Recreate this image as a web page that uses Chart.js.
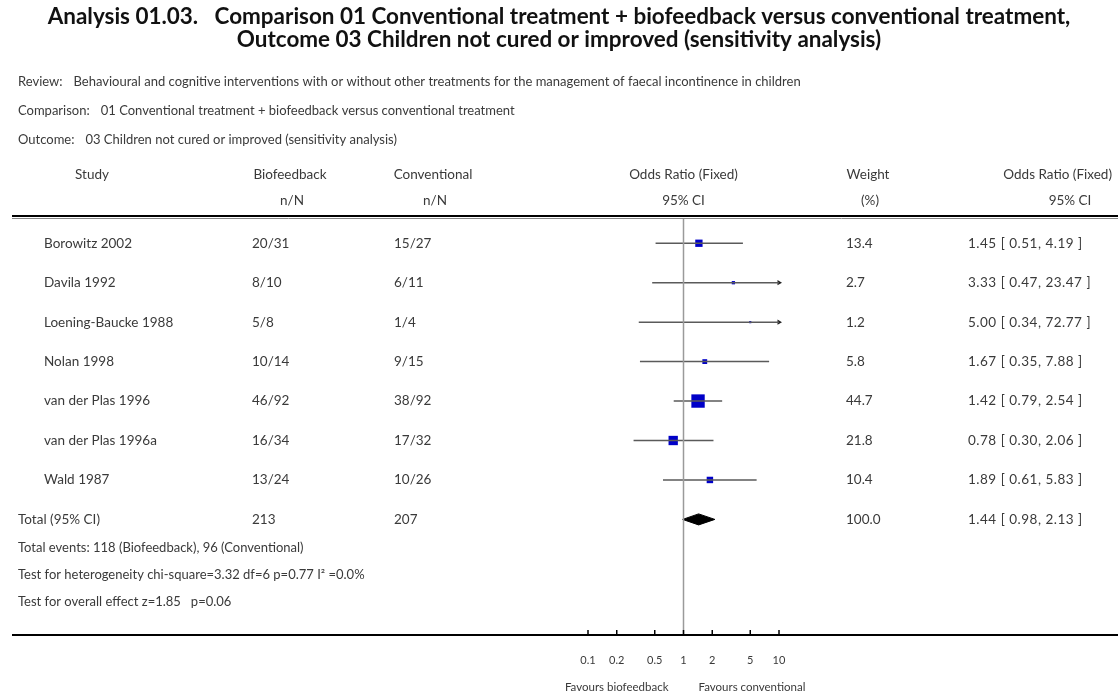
<!DOCTYPE html>
<html>
<head>
<meta charset="utf-8">
<script src="https://cdn.jsdelivr.net/npm/chart.js@4.4.1/dist/chart.umd.min.js"></script>
<style>
  html, body { margin: 0; padding: 0; background: #fff; }
  #wrap { width: 1118px; height: 695px; }
</style>
</head>
<body>
<div id="wrap"><canvas id="forest" width="1118" height="695"></canvas></div>
<script>
// forest plot data
const studies = ['Borowitz 2002', 'Davila 1992', 'Loening-Baucke 1988', 'Nolan 1998', 'van der Plas 1996', 'van der Plas 1996a', 'Wald 1987'];
const bioEvents = ['20/31', '8/10', '5/8', '10/14', '46/92', '16/34', '13/24'];
const convEvents = ['15/27', '6/11', '1/4', '9/15', '38/92', '17/32', '10/26'];
const weights = [13.4, 2.7, 1.2, 5.8, 44.7, 21.8, 10.4];
const oddsRatio = [1.45, 3.33, 5.00, 1.67, 1.42, 0.78, 1.89];
const ciLow = [0.51, 0.47, 0.34, 0.35, 0.79, 0.30, 0.61];
const ciHigh = [4.19, 23.47, 72.77, 7.88, 2.54, 2.06, 5.83];

const totalLabel = 'Total (95% CI)';
const totalBio = '213';
const totalConv = '207';
const totalWeight = 100.0;
const totalOR = 1.44;
const totalLow = 0.98;
const totalHigh = 2.13;

const footerLines = [
    'Total events: 118 (Biofeedback), 96 (Conventional)',
    'Test for heterogeneity chi-square=3.32 df=6 p=0.77 I\u00b2 =0.0%',
    'Test for overall effect z=1.85   p=0.06'
];

const xTicks = [0.1, 0.2, 0.5, 1, 2, 5, 10];
const xMin = 0.1, xMax = 10;
const yMin = -0.64, yMax = 9.93;

const FONT = 'Lato, "Open Sans", sans-serif';
const TEXT = '#3a3a3a';

const ciText = (or, lo, hi) => `${or.toFixed(2)} [ ${lo.toFixed(2)}, ${hi.toFixed(2)} ]`;

// build datasets
const datasets = [];

// line of no effect
datasets.push({
    type: 'line',
    data: [{ x: 1, y: yMin }, { x: 1, y: yMax }],
    borderColor: '#9a9a9a',
    borderWidth: 1.5,
    pointRadius: 0
});

// confidence interval lines
studies.forEach((s, i) => {
    datasets.push({
        type: 'line',
        data: [{ x: ciLow[i], y: i }, { x: ciHigh[i], y: i }],
        borderColor: '#5a5a5a',
        borderWidth: 1.5,
        pointRadius: 0
    });
});

// study squares, area ~ weight
datasets.push({
    type: 'scatter',
    data: studies.map((s, i) => ({ x: oddsRatio[i], y: i })),
    pointStyle: 'rect',
    pointRadius: weights.map(w => Math.SQRT2 * Math.sqrt(w)),
    backgroundColor: '#0000c8',
    borderColor: '#0000c8',
    borderWidth: 0
});

// arrows where the CI runs off the axis
const arrowPts = [];
studies.forEach((s, i) => {
    if (ciHigh[i] > xMax) arrowPts.push({ x: xMax, y: i });
});
datasets.push({
    type: 'scatter',
    data: arrowPts,
    pointStyle: 'triangle',
    rotation: 90,
    pointRadius: 3,
    backgroundColor: '#222',
    borderColor: '#222',
    borderWidth: 0,
    clip: false
});

// pooled diamond
const totalRow = studies.length;
datasets.push({
    type: 'line',
    data: [
        { x: totalLow, y: totalRow },
        { x: totalOR, y: totalRow - 0.14 },
        { x: totalHigh, y: totalRow },
        { x: totalOR, y: totalRow + 0.14 },
        { x: totalLow, y: totalRow }
    ],
    borderColor: '#000',
    backgroundColor: '#000',
    borderWidth: 1,
    pointRadius: 0,
    tension: 0,
    fill: 'shape'
});

// all the table text + rules
const tablePlugin = {
    id: 'forestTable',
    afterDraw(chart) {
        const ctx = chart.ctx;
        const xs = chart.scales.x;
        const ys = chart.scales.y;
        const area = chart.chartArea;
        ctx.save();
        ctx.textBaseline = 'middle';

        // title
        ctx.fillStyle = '#111';
        ctx.textAlign = 'center';
        const t1 = 'Analysis 01.03.   Comparison 01 Conventional treatment + biofeedback versus conventional treatment,';
        const t2 = 'Outcome 03 Children not cured or improved (sensitivity analysis)';
        ctx.font = 'bold 18px ' + FONT;
        let sz = 18 * 1023 / ctx.measureText(t1).width;
        ctx.font = `bold ${sz}px ${FONT}`;
        ctx.fillText(t1, 559, 17);
        ctx.fillText(t2, 559, 40);

        // review info
        ctx.font = '13px ' + FONT;
        ctx.fillStyle = TEXT;
        ctx.textAlign = 'left';
        const info = [
            ['Review:', 'Behavioural and cognitive interventions with or without other treatments for the management of faecal incontinence in children', 82],
            ['Comparison:', '01 Conventional treatment + biofeedback versus conventional treatment', 111],
            ['Outcome:', '03 Children not cured or improved (sensitivity analysis)', 140]
        ];
        info.forEach(([lab, txt, y]) => {
            ctx.fillText(lab, 18, y);
            ctx.fillText(txt, 18 + ctx.measureText(lab).width + 11, y);
        });

        // column headers
        ctx.font = '13.5px ' + FONT;
        const xOne = xs.getPixelForValue(1);
        const h1 = 175, h2 = 201;
        ctx.textAlign = 'center';
        ctx.fillText('Study', 92, h1);
        ctx.fillText('Biofeedback', 290, h1);
        ctx.fillText('n/N', 292, h2);
        ctx.fillText('Conventional', 433, h1);
        ctx.fillText('n/N', 435, h2);
        ctx.fillText('Odds Ratio (Fixed)', xOne, h1);
        ctx.fillText('95% CI', xOne, h2);
        ctx.fillText('Weight', 868, h1);
        ctx.fillText('(%)', 870, h2);
        ctx.textAlign = 'right';
        ctx.fillText('Odds Ratio (Fixed)', 1112, h1);
        ctx.textAlign = 'center';
        ctx.fillText('95% CI', 1070, h2);

        // double rule under headers
        ctx.strokeStyle = '#000';
        ctx.lineWidth = 2;
        ctx.beginPath(); ctx.moveTo(12, 216); ctx.lineTo(1118, 216); ctx.stroke();
        ctx.strokeStyle = '#888';
        ctx.lineWidth = 1;
        ctx.beginPath(); ctx.moveTo(12, 218.5); ctx.lineTo(1118, 218.5); ctx.stroke();

        // study rows
        ctx.font = '13.5px ' + FONT;
        ctx.fillStyle = TEXT;
        ctx.textAlign = 'left';
        const drawCi = (t, y) => {
            ctx.letterSpacing = '0.5px';
            ctx.fillText(t, 968, y);
            ctx.letterSpacing = '0px';
        };
        studies.forEach((s, i) => {
            const y = ys.getPixelForValue(i);
            ctx.fillText(s, 44, y);
            ctx.fillText(bioEvents[i], 252, y);
            ctx.fillText(convEvents[i], 394, y);
            ctx.fillText(weights[i].toFixed(1), 846, y);
            drawCi(ciText(oddsRatio[i], ciLow[i], ciHigh[i]), y);
        });

        // total row
        const yt = ys.getPixelForValue(totalRow);
        ctx.fillText(totalLabel, 18, yt);
        ctx.fillText(totalBio, 252, yt);
        ctx.fillText(totalConv, 394, yt);
        ctx.fillText(totalWeight.toFixed(1), 846, yt);
        drawCi(ciText(totalOR, totalLow, totalHigh), yt);

        // footer stats
        ctx.font = '13px ' + FONT;
        footerLines.forEach((t, k) => {
            ctx.fillText(t, 18, ys.getPixelForValue(totalRow + 0.72 + k * 0.69));
        });

        // bottom axis rule with tick marks pointing up
        const yb = area.bottom;
        ctx.strokeStyle = '#000';
        ctx.lineWidth = 2;
        ctx.beginPath(); ctx.moveTo(12, yb); ctx.lineTo(1118, yb); ctx.stroke();
        ctx.lineWidth = 1.5;
        xTicks.forEach(v => {
            const px = xs.getPixelForValue(v);
            ctx.beginPath(); ctx.moveTo(px, yb); ctx.lineTo(px, yb - 5); ctx.stroke();
        });

        // favours labels
        ctx.font = '11.5px ' + FONT;
        ctx.fillStyle = TEXT;
        ctx.textAlign = 'right';
        ctx.fillText('Favours biofeedback', xOne - 15, 687);
        ctx.textAlign = 'left';
        ctx.fillText('Favours conventional', xOne + 15, 687);

        ctx.restore();
    }
};

new Chart(document.getElementById('forest').getContext('2d'), {
    type: 'scatter',
    data: { datasets: datasets },
    options: {
        responsive: false,
        animation: false,
        events: [],
        layout: { padding: { left: 588, right: 339, top: 218, bottom: 15 } },
        plugins: {
            legend: { display: false },
            tooltip: { enabled: false }
        },
        scales: {
            x: {
                type: 'logarithmic',
                min: xMin,
                max: xMax,
                position: 'bottom',
                afterBuildTicks: scale => { scale.ticks = xTicks.map(v => ({ value: v })); },
                afterFit: scale => { scale.height = 45; },
                grid: { display: false, drawTicks: false },
                border: { display: false },
                ticks: {
                    padding: 19,
                    color: TEXT,
                    font: { family: FONT, size: 11 },
                    autoSkip: false,
                    maxRotation: 0,
                    callback: v => String(v)
                }
            },
            y: {
                type: 'linear',
                min: yMin,
                max: yMax,
                reverse: true,
                display: false
            }
        }
    },
    plugins: [tablePlugin]
});
</script>
</body>
</html>
